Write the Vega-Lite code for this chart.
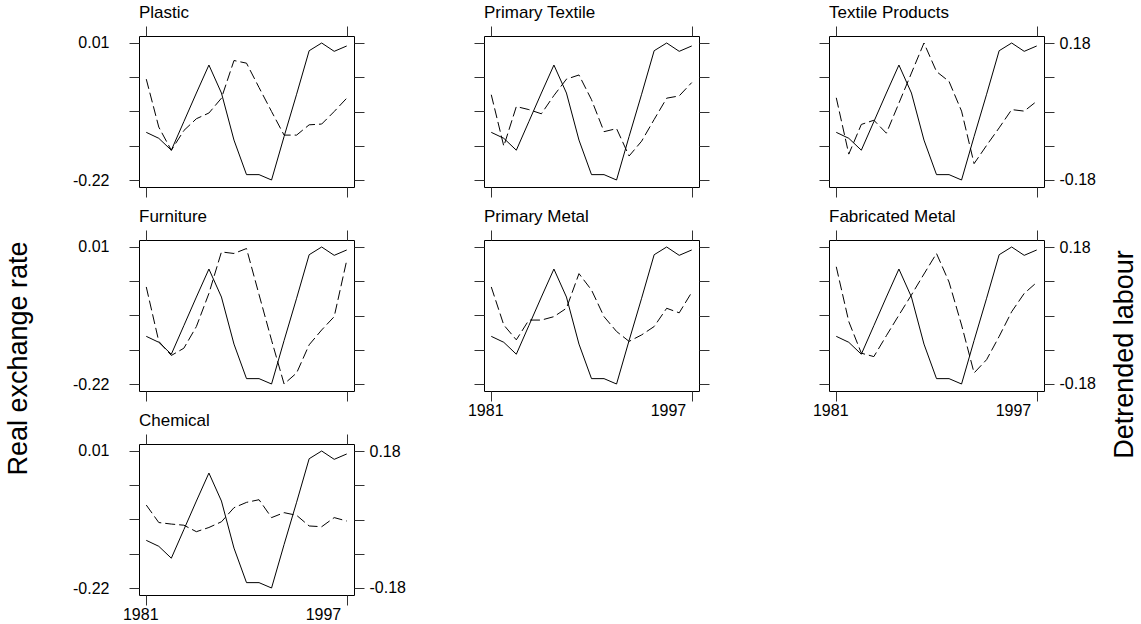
{
  "$schema": "https://vega.github.io/schema/vega-lite/v6.json",
  "padding": {"left": 3, "top": 3, "right": 5, "bottom": 5},
  "background": "white",
  "datasets": {
    "rer": [
      {"year": 1981, "rer": -0.140}, {"year": 1982, "rer": -0.150}, {"year": 1983, "rer": -0.170},
      {"year": 1984, "rer": -0.122}, {"year": 1985, "rer": -0.074}, {"year": 1986, "rer": -0.027},
      {"year": 1987, "rer": -0.074}, {"year": 1988, "rer": -0.153}, {"year": 1989, "rer": -0.211},
      {"year": 1990, "rer": -0.211}, {"year": 1991, "rer": -0.220}, {"year": 1992, "rer": -0.147},
      {"year": 1993, "rer": -0.076}, {"year": 1994, "rer": -0.003}, {"year": 1995, "rer": 0.010},
      {"year": 1996, "rer": -0.004}, {"year": 1997, "rer": 0.005}
    ],
    "labour": [
      {"industry": "Plastic", "year": 1981, "labour": 0.085}, {"industry": "Plastic", "year": 1982, "labour": -0.041},
      {"industry": "Plastic", "year": 1983, "labour": -0.102}, {"industry": "Plastic", "year": 1984, "labour": -0.050},
      {"industry": "Plastic", "year": 1985, "labour": -0.019}, {"industry": "Plastic", "year": 1986, "labour": -0.004},
      {"industry": "Plastic", "year": 1987, "labour": 0.035}, {"industry": "Plastic", "year": 1988, "labour": 0.134},
      {"industry": "Plastic", "year": 1989, "labour": 0.127}, {"industry": "Plastic", "year": 1990, "labour": 0.063},
      {"industry": "Plastic", "year": 1991, "labour": 0.000}, {"industry": "Plastic", "year": 1992, "labour": -0.062},
      {"industry": "Plastic", "year": 1993, "labour": -0.062}, {"industry": "Plastic", "year": 1994, "labour": -0.035},
      {"industry": "Plastic", "year": 1995, "labour": -0.033}, {"industry": "Plastic", "year": 1996, "labour": 0.000},
      {"industry": "Plastic", "year": 1997, "labour": 0.035},

      {"industry": "Primary Textile", "year": 1981, "labour": 0.044}, {"industry": "Primary Textile", "year": 1982, "labour": -0.091},
      {"industry": "Primary Textile", "year": 1983, "labour": 0.013}, {"industry": "Primary Textile", "year": 1984, "labour": 0.005},
      {"industry": "Primary Textile", "year": 1985, "labour": -0.006}, {"industry": "Primary Textile", "year": 1986, "labour": 0.042},
      {"industry": "Primary Textile", "year": 1987, "labour": 0.085}, {"industry": "Primary Textile", "year": 1988, "labour": 0.096},
      {"industry": "Primary Textile", "year": 1989, "labour": 0.031}, {"industry": "Primary Textile", "year": 1990, "labour": -0.053},
      {"industry": "Primary Textile", "year": 1991, "labour": -0.045}, {"industry": "Primary Textile", "year": 1992, "labour": -0.117},
      {"industry": "Primary Textile", "year": 1993, "labour": -0.078}, {"industry": "Primary Textile", "year": 1994, "labour": -0.021},
      {"industry": "Primary Textile", "year": 1995, "labour": 0.035}, {"industry": "Primary Textile", "year": 1996, "labour": 0.041},
      {"industry": "Primary Textile", "year": 1997, "labour": 0.076},

      {"industry": "Textile Products", "year": 1981, "labour": 0.036}, {"industry": "Textile Products", "year": 1982, "labour": -0.112},
      {"industry": "Textile Products", "year": 1983, "labour": -0.034}, {"industry": "Textile Products", "year": 1984, "labour": -0.023},
      {"industry": "Textile Products", "year": 1985, "labour": -0.057}, {"industry": "Textile Products", "year": 1986, "labour": 0.022},
      {"industry": "Textile Products", "year": 1987, "labour": 0.101}, {"industry": "Textile Products", "year": 1988, "labour": 0.180},
      {"industry": "Textile Products", "year": 1989, "labour": 0.105}, {"industry": "Textile Products", "year": 1990, "labour": 0.079},
      {"industry": "Textile Products", "year": 1991, "labour": 0.001}, {"industry": "Textile Products", "year": 1992, "labour": -0.137},
      {"industry": "Textile Products", "year": 1993, "labour": -0.089}, {"industry": "Textile Products", "year": 1994, "labour": -0.043},
      {"industry": "Textile Products", "year": 1995, "labour": 0.005}, {"industry": "Textile Products", "year": 1996, "labour": 0.001},
      {"industry": "Textile Products", "year": 1997, "labour": 0.027},

      {"industry": "Furniture", "year": 1981, "labour": 0.075}, {"industry": "Furniture", "year": 1982, "labour": -0.068},
      {"industry": "Furniture", "year": 1983, "labour": -0.105}, {"industry": "Furniture", "year": 1984, "labour": -0.086},
      {"industry": "Furniture", "year": 1985, "labour": -0.029}, {"industry": "Furniture", "year": 1986, "labour": 0.058},
      {"industry": "Furniture", "year": 1987, "labour": 0.167}, {"industry": "Furniture", "year": 1988, "labour": 0.163},
      {"industry": "Furniture", "year": 1989, "labour": 0.176}, {"industry": "Furniture", "year": 1990, "labour": 0.055},
      {"industry": "Furniture", "year": 1991, "labour": -0.065}, {"industry": "Furniture", "year": 1992, "labour": -0.180},
      {"industry": "Furniture", "year": 1993, "labour": -0.151}, {"industry": "Furniture", "year": 1994, "labour": -0.077},
      {"industry": "Furniture", "year": 1995, "labour": -0.038}, {"industry": "Furniture", "year": 1996, "labour": -0.003},
      {"industry": "Furniture", "year": 1997, "labour": 0.145},

      {"industry": "Primary Metal", "year": 1981, "labour": 0.075}, {"industry": "Primary Metal", "year": 1982, "labour": -0.025},
      {"industry": "Primary Metal", "year": 1983, "labour": -0.064}, {"industry": "Primary Metal", "year": 1984, "labour": -0.012},
      {"industry": "Primary Metal", "year": 1985, "labour": -0.012}, {"industry": "Primary Metal", "year": 1986, "labour": -0.003},
      {"industry": "Primary Metal", "year": 1987, "labour": 0.019}, {"industry": "Primary Metal", "year": 1988, "labour": 0.110},
      {"industry": "Primary Metal", "year": 1989, "labour": 0.067}, {"industry": "Primary Metal", "year": 1990, "labour": -0.003},
      {"industry": "Primary Metal", "year": 1991, "labour": -0.042}, {"industry": "Primary Metal", "year": 1992, "labour": -0.068},
      {"industry": "Primary Metal", "year": 1993, "labour": -0.051}, {"industry": "Primary Metal", "year": 1994, "labour": -0.029},
      {"industry": "Primary Metal", "year": 1995, "labour": 0.019}, {"industry": "Primary Metal", "year": 1996, "labour": 0.007},
      {"industry": "Primary Metal", "year": 1997, "labour": 0.061},

      {"industry": "Fabricated Metal", "year": 1981, "labour": 0.128}, {"industry": "Fabricated Metal", "year": 1982, "labour": -0.016},
      {"industry": "Fabricated Metal", "year": 1983, "labour": -0.099}, {"industry": "Fabricated Metal", "year": 1984, "labour": -0.108},
      {"industry": "Fabricated Metal", "year": 1985, "labour": -0.053}, {"industry": "Fabricated Metal", "year": 1986, "labour": 0.001},
      {"industry": "Fabricated Metal", "year": 1987, "labour": 0.054}, {"industry": "Fabricated Metal", "year": 1988, "labour": 0.109},
      {"industry": "Fabricated Metal", "year": 1989, "labour": 0.163}, {"industry": "Fabricated Metal", "year": 1990, "labour": 0.088},
      {"industry": "Fabricated Metal", "year": 1991, "labour": -0.025}, {"industry": "Fabricated Metal", "year": 1992, "labour": -0.151},
      {"industry": "Fabricated Metal", "year": 1993, "labour": -0.116}, {"industry": "Fabricated Metal", "year": 1994, "labour": -0.055},
      {"industry": "Fabricated Metal", "year": 1995, "labour": 0.010}, {"industry": "Fabricated Metal", "year": 1996, "labour": 0.058},
      {"industry": "Fabricated Metal", "year": 1997, "labour": 0.087},

      {"industry": "Chemical", "year": 1981, "labour": 0.038}, {"industry": "Chemical", "year": 1982, "labour": -0.008},
      {"industry": "Chemical", "year": 1983, "labour": -0.012}, {"industry": "Chemical", "year": 1984, "labour": -0.015},
      {"industry": "Chemical", "year": 1985, "labour": -0.032}, {"industry": "Chemical", "year": 1986, "labour": -0.021},
      {"industry": "Chemical", "year": 1987, "labour": -0.006}, {"industry": "Chemical", "year": 1988, "labour": 0.031},
      {"industry": "Chemical", "year": 1989, "labour": 0.045}, {"industry": "Chemical", "year": 1990, "labour": 0.052},
      {"industry": "Chemical", "year": 1991, "labour": 0.005}, {"industry": "Chemical", "year": 1992, "labour": 0.018},
      {"industry": "Chemical", "year": 1993, "labour": 0.011}, {"industry": "Chemical", "year": 1994, "labour": -0.017},
      {"industry": "Chemical", "year": 1995, "labour": -0.019}, {"industry": "Chemical", "year": 1996, "labour": 0.005},
      {"industry": "Chemical", "year": 1997, "labour": -0.004}
    ]
  },
  "config": {
    "font": "Liberation Sans",
    "view": {"stroke": "#000", "strokeWidth": 1},
    "axis": {
      "domain": false, "grid": false, "ticks": true, "tickSize": 10, "tickColor": "#333", "tickWidth": 1,
      "labelFont": "Liberation Sans", "labelFontSize": 16, "labelColor": "#000",
      "titleFont": "Liberation Sans", "titleFontSize": 27, "titleFontWeight": "normal", "titleColor": "#000"
    },
    "title": {"font": "Liberation Sans", "fontSize": 17, "fontWeight": "normal", "anchor": "start", "frame": "group", "offset": 4, "color": "#000"},
    "line": {"color": "#000", "strokeWidth": 1}
  },
  "columns": 3,
  "spacing": {"row": 53, "column": 130},
  "bounds": "flush",
  "concat": [
    {
      "width": 215, "height": 151, "title": "Plastic",
      "layer": [
        {"data": {"name": "rer"}, "mark": "line",
         "encoding": {
           "x": {"field": "year", "type": "quantitative", "scale": {"domain": [1980.42, 1997.58], "nice": false, "zero": false}, "axis": {"orient": "bottom", "values": [1981, 1997], "labels": false, "title": null}},
           "y": {"field": "rer", "type": "quantitative", "scale": {"domain": [-0.23175, 0.02175], "nice": false, "zero": false}, "axis": {"orient": "left", "values": [0.01, -0.0475, -0.105, -0.1625, -0.22], "labelPadding": 20, "labelExpr": "datum.value == 0.01 ? '0.01' : datum.value == -0.22 ? '-0.22' : ''", "title": null}}
         }},
        {"data": {"name": "labour"}, "transform": [{"filter": "datum.industry == 'Plastic'"}], "mark": {"type": "line", "strokeDash": [10, 4]},
         "encoding": {
           "x": {"field": "year", "type": "quantitative", "axis": {"orient": "top", "values": [1981, 1997], "labels": false, "title": null}},
           "y": {"field": "labour", "type": "quantitative", "scale": {"domain": [-0.1984, 0.1984], "nice": false, "zero": false}, "axis": {"orient": "right", "values": [0.18, 0.09, 0, -0.09, -0.18], "labels": false, "title": null}}
         }}
      ],
      "resolve": {"scale": {"y": "independent"}, "axis": {"x": "independent"}}
    },
    {
      "width": 215, "height": 151, "title": "Primary Textile",
      "layer": [
        {"data": {"name": "rer"}, "mark": "line",
         "encoding": {
           "x": {"field": "year", "type": "quantitative", "scale": {"domain": [1980.42, 1997.58], "nice": false, "zero": false}, "axis": {"orient": "bottom", "values": [1981, 1997], "labels": false, "title": null}},
           "y": {"field": "rer", "type": "quantitative", "scale": {"domain": [-0.23175, 0.02175], "nice": false, "zero": false}, "axis": {"orient": "left", "values": [0.01, -0.0475, -0.105, -0.1625, -0.22], "labels": false, "title": null}}
         }},
        {"data": {"name": "labour"}, "transform": [{"filter": "datum.industry == 'Primary Textile'"}], "mark": {"type": "line", "strokeDash": [10, 4]},
         "encoding": {
           "x": {"field": "year", "type": "quantitative", "axis": {"orient": "top", "values": [1981, 1997], "labels": false, "title": null}},
           "y": {"field": "labour", "type": "quantitative", "scale": {"domain": [-0.1984, 0.1984], "nice": false, "zero": false}, "axis": {"orient": "right", "values": [0.18, 0.09, 0, -0.09, -0.18], "labels": false, "title": null}}
         }}
      ],
      "resolve": {"scale": {"y": "independent"}, "axis": {"x": "independent"}}
    },
    {
      "width": 215, "height": 151, "title": "Textile Products",
      "layer": [
        {"data": {"name": "rer"}, "mark": "line",
         "encoding": {
           "x": {"field": "year", "type": "quantitative", "scale": {"domain": [1980.42, 1997.58], "nice": false, "zero": false}, "axis": {"orient": "bottom", "values": [1981, 1997], "labels": false, "title": null}},
           "y": {"field": "rer", "type": "quantitative", "scale": {"domain": [-0.23175, 0.02175], "nice": false, "zero": false}, "axis": {"orient": "left", "values": [0.01, -0.0475, -0.105, -0.1625, -0.22], "labels": false, "title": null}}
         }},
        {"data": {"name": "labour"}, "transform": [{"filter": "datum.industry == 'Textile Products'"}], "mark": {"type": "line", "strokeDash": [10, 4]},
         "encoding": {
           "x": {"field": "year", "type": "quantitative", "axis": {"orient": "top", "values": [1981, 1997], "labels": false, "title": null}},
           "y": {"field": "labour", "type": "quantitative", "scale": {"domain": [-0.1984, 0.1984], "nice": false, "zero": false}, "axis": {"orient": "right", "values": [0.18, 0.09, 0, -0.09, -0.18], "labelPadding": 5, "labelExpr": "datum.value == 0.18 ? '0.18' : datum.value == -0.18 ? '-0.18' : ''", "title": null}}
         }}
      ],
      "resolve": {"scale": {"y": "independent"}, "axis": {"x": "independent"}}
    },
    {
      "width": 215, "height": 151, "title": "Furniture",
      "layer": [
        {"data": {"name": "rer"}, "mark": "line",
         "encoding": {
           "x": {"field": "year", "type": "quantitative", "scale": {"domain": [1980.42, 1997.58], "nice": false, "zero": false}, "axis": {"orient": "bottom", "values": [1981, 1997], "labels": false, "title": null}},
           "y": {"field": "rer", "type": "quantitative", "scale": {"domain": [-0.23175, 0.02175], "nice": false, "zero": false}, "axis": {"orient": "left", "values": [0.01, -0.0475, -0.105, -0.1625, -0.22], "labelPadding": 20, "labelExpr": "datum.value == 0.01 ? '0.01' : datum.value == -0.22 ? '-0.22' : ''", "title": "Real exchange rate", "titleAngle": -90, "titleX": -113, "titleY": 118, "titleAlign": "center", "titleBaseline": "alphabetic"}}
         }},
        {"data": {"name": "labour"}, "transform": [{"filter": "datum.industry == 'Furniture'"}], "mark": {"type": "line", "strokeDash": [10, 4]},
         "encoding": {
           "x": {"field": "year", "type": "quantitative", "axis": {"orient": "top", "values": [1981, 1997], "labels": false, "title": null}},
           "y": {"field": "labour", "type": "quantitative", "scale": {"domain": [-0.1984, 0.1984], "nice": false, "zero": false}, "axis": {"orient": "right", "values": [0.18, 0.09, 0, -0.09, -0.18], "labels": false, "title": null}}
         }}
      ],
      "resolve": {"scale": {"y": "independent"}, "axis": {"x": "independent"}}
    },
    {
      "width": 215, "height": 151, "title": "Primary Metal",
      "layer": [
        {"data": {"name": "rer"}, "mark": "line",
         "encoding": {
           "x": {"field": "year", "type": "quantitative", "scale": {"domain": [1980.42, 1997.58], "nice": false, "zero": false}, "axis": {"orient": "bottom", "values": [1981, 1997], "format": "d", "labelPadding": 1, "labelOffset": -6, "labelAlign": {"condition": {"test": "datum.value < 1990", "value": "center"}, "value": "right"}, "title": null}},
           "y": {"field": "rer", "type": "quantitative", "scale": {"domain": [-0.23175, 0.02175], "nice": false, "zero": false}, "axis": {"orient": "left", "values": [0.01, -0.0475, -0.105, -0.1625, -0.22], "labels": false, "title": null}}
         }},
        {"data": {"name": "labour"}, "transform": [{"filter": "datum.industry == 'Primary Metal'"}], "mark": {"type": "line", "strokeDash": [10, 4]},
         "encoding": {
           "x": {"field": "year", "type": "quantitative", "axis": {"orient": "top", "values": [1981, 1997], "labels": false, "title": null}},
           "y": {"field": "labour", "type": "quantitative", "scale": {"domain": [-0.1984, 0.1984], "nice": false, "zero": false}, "axis": {"orient": "right", "values": [0.18, 0.09, 0, -0.09, -0.18], "labels": false, "title": null}}
         }}
      ],
      "resolve": {"scale": {"y": "independent"}, "axis": {"x": "independent"}}
    },
    {
      "width": 215, "height": 151, "title": "Fabricated Metal",
      "layer": [
        {"data": {"name": "rer"}, "mark": "line",
         "encoding": {
           "x": {"field": "year", "type": "quantitative", "scale": {"domain": [1980.42, 1997.58], "nice": false, "zero": false}, "axis": {"orient": "bottom", "values": [1981, 1997], "format": "d", "labelPadding": 1, "labelOffset": -6, "labelAlign": {"condition": {"test": "datum.value < 1990", "value": "center"}, "value": "right"}, "title": null}},
           "y": {"field": "rer", "type": "quantitative", "scale": {"domain": [-0.23175, 0.02175], "nice": false, "zero": false}, "axis": {"orient": "left", "values": [0.01, -0.0475, -0.105, -0.1625, -0.22], "labels": false, "title": null}}
         }},
        {"data": {"name": "labour"}, "transform": [{"filter": "datum.industry == 'Fabricated Metal'"}], "mark": {"type": "line", "strokeDash": [10, 4]},
         "encoding": {
           "x": {"field": "year", "type": "quantitative", "axis": {"orient": "top", "values": [1981, 1997], "labels": false, "title": null}},
           "y": {"field": "labour", "type": "quantitative", "scale": {"domain": [-0.1984, 0.1984], "nice": false, "zero": false}, "axis": {"orient": "right", "values": [0.18, 0.09, 0, -0.09, -0.18], "labelPadding": 5, "labelExpr": "datum.value == 0.18 ? '0.18' : datum.value == -0.18 ? '-0.18' : ''", "title": "Detrended labour", "titleAngle": -90, "titleX": 88, "titleY": 114, "titleAlign": "center", "titleBaseline": "alphabetic"}}
         }}
      ],
      "resolve": {"scale": {"y": "independent"}, "axis": {"x": "independent"}}
    },
    {
      "width": 215, "height": 151, "title": "Chemical",
      "layer": [
        {"data": {"name": "rer"}, "mark": "line",
         "encoding": {
           "x": {"field": "year", "type": "quantitative", "scale": {"domain": [1980.42, 1997.58], "nice": false, "zero": false}, "axis": {"orient": "bottom", "values": [1981, 1997], "format": "d", "labelPadding": 1, "labelOffset": -6, "labelAlign": {"condition": {"test": "datum.value < 1990", "value": "center"}, "value": "right"}, "title": null}},
           "y": {"field": "rer", "type": "quantitative", "scale": {"domain": [-0.23175, 0.02175], "nice": false, "zero": false}, "axis": {"orient": "left", "values": [0.01, -0.0475, -0.105, -0.1625, -0.22], "labelPadding": 20, "labelExpr": "datum.value == 0.01 ? '0.01' : datum.value == -0.22 ? '-0.22' : ''", "title": null}}
         }},
        {"data": {"name": "labour"}, "transform": [{"filter": "datum.industry == 'Chemical'"}], "mark": {"type": "line", "strokeDash": [10, 4]},
         "encoding": {
           "x": {"field": "year", "type": "quantitative", "axis": {"orient": "top", "values": [1981, 1997], "labels": false, "title": null}},
           "y": {"field": "labour", "type": "quantitative", "scale": {"domain": [-0.1984, 0.1984], "nice": false, "zero": false}, "axis": {"orient": "right", "values": [0.18, 0.09, 0, -0.09, -0.18], "labelPadding": 5, "labelExpr": "datum.value == 0.18 ? '0.18' : datum.value == -0.18 ? '-0.18' : ''", "title": null}}
         }}
      ],
      "resolve": {"scale": {"y": "independent"}, "axis": {"x": "independent"}}
    }
  ]
}
